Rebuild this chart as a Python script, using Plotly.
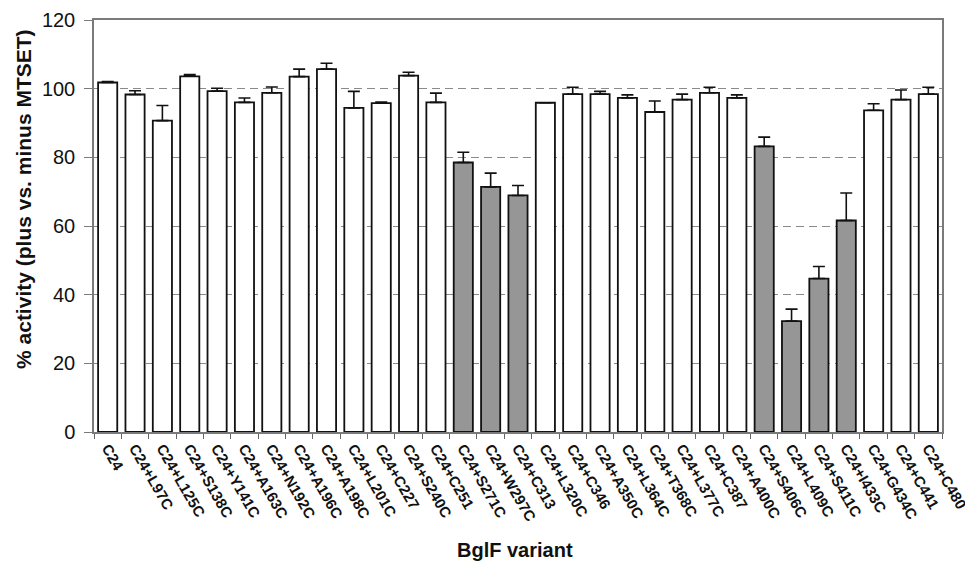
import plotly.graph_objects as go

variants = ["C24", "C24+L97C", "C24+L125C", "C24+S138C", "C24+Y141C", "C24+A163C",
            "C24+N192C", "C24+A196C", "C24+A198C", "C24+L201C", "C24+C227", "C24+S240C",
            "C24+C251", "C24+S271C", "C24+W297C", "C24+C313", "C24+L320C", "C24+C346",
            "C24+A350C", "C24+L364C", "C24+T368C", "C24+L377C", "C24+C387", "C24+A400C",
            "C24+S406C", "C24+L409C", "C24+S411C", "C24+I433C", "C24+G434C", "C24+C441",
            "C24+C480"]
activity = [101.8, 98.3, 90.7, 103.6, 99.3, 96.0, 98.8, 103.5, 105.7, 94.4, 95.8, 103.8,
            96.0, 78.5, 71.4, 68.9, 95.9, 98.4, 98.4, 97.3, 93.2, 96.8, 98.8, 97.3,
            83.2, 32.3, 44.7, 61.6, 93.7, 96.8, 98.4]
error = [0.3, 1.1, 4.4, 0.5, 0.8, 1.3, 1.7, 2.2, 1.7, 4.8, 0.3, 1.0,
         2.7, 3.0, 4.0, 2.9, 0.0, 2.0, 0.8, 0.9, 3.2, 1.6, 1.6, 0.9,
         2.7, 3.5, 3.5, 8.0, 1.9, 2.8, 2.0]
significant = [False] * 13 + [True] * 3 + [False] * 8 + [True] * 4 + [False] * 3

colors = ["#969696" if s else "#ffffff" for s in significant]

fig = go.Figure()
fig.add_trace(go.Bar(
    x=variants, y=activity,
    marker=dict(color=colors, line=dict(color="#111111", width=1.8)),
    error_y=dict(type="data", array=error, arrayminus=[0] * len(error),
                 symmetric=False, color="#111111", thickness=1.6, width=6),
    width=0.7,
))

fig.update_layout(
    width=973, height=562,
    margin=dict(l=86, r=39, t=12, b=138),
    paper_bgcolor="white", plot_bgcolor="white",
    showlegend=False,
    font=dict(family="Liberation Sans, Arial, sans-serif", color="#111111"),
    xaxis=dict(
        automargin=False,
        tickangle=60, tickfont=dict(size=15, family="Liberation Sans", weight="bold"),
        ticks="outside", ticklen=5, tickcolor="#666666", tickson="boundaries",
        showline=True, linecolor="#7a7a7a", linewidth=1.5, mirror=True,
        showgrid=False,
    ),
    yaxis=dict(
        automargin=False,
        range=[0, 120], tickvals=[0, 20, 40, 60, 80, 100, 120],
        tickfont=dict(size=20),
        ticks="outside", ticklen=8, tickcolor="#7a7a7a", ticklabelstandoff=5,
        showline=True, linecolor="#7a7a7a", linewidth=1.5, mirror=True,
        showgrid=True, gridcolor="#8a8a8a", griddash="8px,5px", gridwidth=1,
        zeroline=False,
    ),
    annotations=[
        dict(text="<b>% activity (plus vs. minus MTSET)</b>", textangle=-90,
             xref="paper", yref="paper", x=-0.084, y=0.565,
             xanchor="center", yanchor="middle", showarrow=False,
             font=dict(size=21)),
        dict(text="<b>BglF variant</b>",
             xref="paper", yref="paper", x=0.496, y=-0.286,
             xanchor="center", yanchor="middle", showarrow=False,
             font=dict(size=20)),
    ],
)

fig.write_html("out.html")
